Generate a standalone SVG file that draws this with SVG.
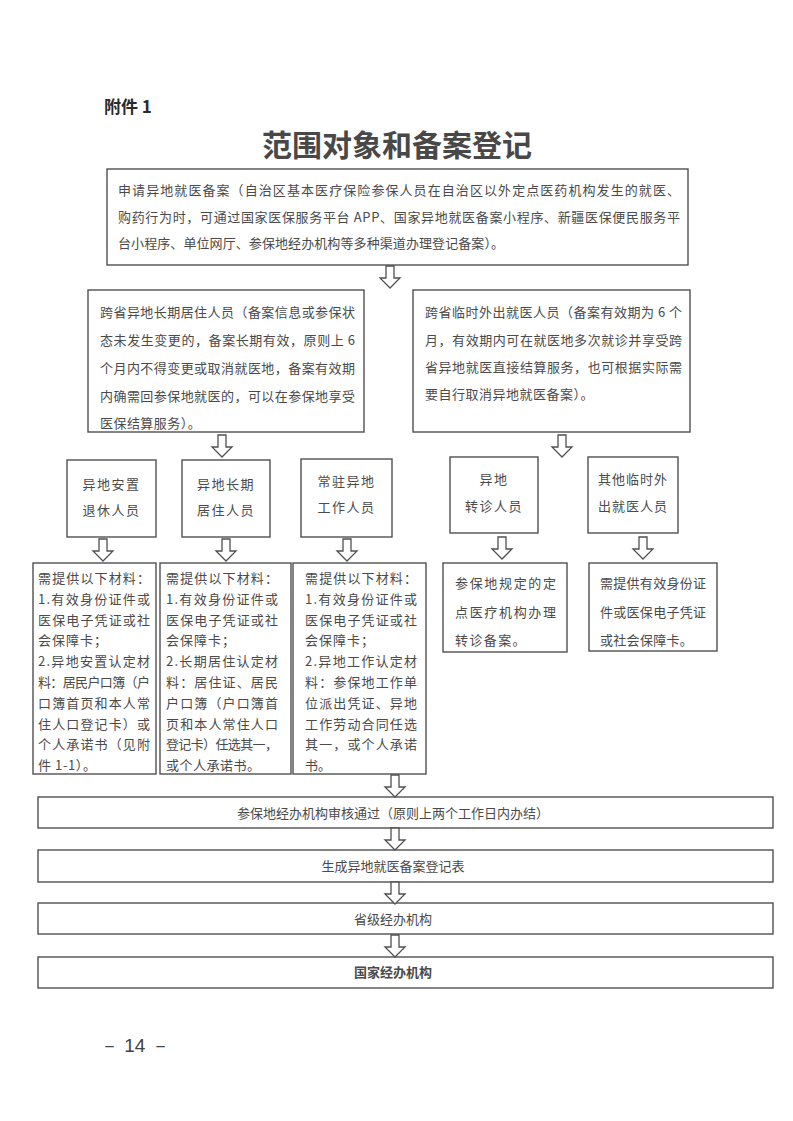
<svg xmlns="http://www.w3.org/2000/svg" xmlns:xlink="http://www.w3.org/1999/xlink" width="793" height="1121" viewBox="0 0 793 1121">
<style>
.bg{fill:#ffffff}
.box{fill:#ffffff;stroke:#505050;stroke-width:1.4}
.t{font-family:"Noto Sans CJK SC","Liberation Sans",sans-serif;font-size:13px;fill:#4a4a4a}
.c{text-anchor:middle}
.arrow{fill:#ffffff;stroke:#505050;stroke-width:1.3;stroke-linejoin:miter}
.head{font-family:"Noto Sans CJK SC","Liberation Sans",sans-serif;font-weight:bold;fill:#2a2a2a}
</style>
<defs>
<path id="arr" d="M-4,0 H4 V12 H10 L0,22 L-10,12 H-4 Z" class="arrow"/>
</defs>
<rect class="bg" x="0" y="0" width="793" height="1121"/>
<text class="head" x="104" y="113" font-size="17">附件 1</text>
<text class="head c" x="397" y="156" font-size="30" style="fill:#484848">范围对象和备案登记</text>

<g id="n_apply">
<rect class="box" x="107" y="169" width="581" height="96"/>
<text class="t" x="118" y="195" textLength="562" lengthAdjust="spacing">申请异地就医备案（自治区基本医疗保险参保人员在自治区以外定点医药机构发生的就医、</text>
<text class="t" x="118" y="222" textLength="562" lengthAdjust="spacing">购药行为时，可通过国家医保服务平台 APP、国家异地就医备案小程序、新疆医保便民服务平</text>
<text class="t" x="118" y="248" textLength="386" lengthAdjust="spacing">台小程序、单位网厅、参保地经办机构等多种渠道办理登记备案）。</text>
</g>

<g id="n_long">
<rect class="box" x="88" y="290" width="276" height="142"/>
<text class="t" x="100" y="317" textLength="255" lengthAdjust="spacing">跨省异地长期居住人员（备案信息或参保状</text>
<text class="t" x="100" y="345" textLength="255" lengthAdjust="spacing">态未发生变更的，备案长期有效，原则上 6</text>
<text class="t" x="100" y="373" textLength="255" lengthAdjust="spacing">个月内不得变更或取消就医地，备案有效期</text>
<text class="t" x="100" y="401" textLength="255" lengthAdjust="spacing">内确需回参保地就医的，可以在参保地享受</text>
<text class="t" x="100" y="428" letter-spacing="0.45">医保结算服务）。</text>
</g>

<g id="n_temp">
<rect class="box" x="413" y="290" width="277" height="142"/>
<text class="t" x="425" y="317" textLength="257" lengthAdjust="spacing">跨省临时外出就医人员（备案有效期为 6 个</text>
<text class="t" x="425" y="345" textLength="257" lengthAdjust="spacing">月，有效期内可在就医地多次就诊并享受跨</text>
<text class="t" x="425" y="372" textLength="257" lengthAdjust="spacing">省异地就医直接结算服务，也可根据实际需</text>
<text class="t" x="425" y="399" letter-spacing="0.5">要自行取消异地就医备案）。</text>
</g>

<g id="n_retire">
<rect class="box" x="67" y="460" width="89" height="77"/>
<text class="t c" x="111.5" y="489" letter-spacing="1.5">异地安置</text>
<text class="t c" x="111.5" y="515" letter-spacing="1.5">退休人员</text>
</g>
<g id="n_reside">
<rect class="box" x="182" y="460" width="88" height="77"/>
<text class="t c" x="226" y="489" letter-spacing="1.5">异地长期</text>
<text class="t c" x="226" y="515" letter-spacing="1.5">居住人员</text>
</g>
<g id="n_work">
<rect class="box" x="301" y="459" width="91" height="78"/>
<text class="t c" x="346.5" y="486" letter-spacing="1.5">常驻异地</text>
<text class="t c" x="346.5" y="512" letter-spacing="1.5">工作人员</text>
</g>
<g id="n_transfer">
<rect class="box" x="450" y="457" width="88" height="76"/>
<text class="t c" x="494" y="484" letter-spacing="1.5">异地</text>
<text class="t c" x="494" y="511" letter-spacing="1.5">转诊人员</text>
</g>
<g id="n_other">
<rect class="box" x="588" y="457" width="90" height="76"/>
<text class="t c" x="633" y="484" letter-spacing="1">其他临时外</text>
<text class="t c" x="633" y="511" letter-spacing="1">出就医人员</text>
</g>

<g id="n_mat1">
<rect class="box" x="33" y="563" width="123" height="211"/>
<text class="t" x="38" y="583" textLength="112" lengthAdjust="spacing">需提供以下材料：</text>
<text class="t" x="38" y="604" textLength="112" lengthAdjust="spacing">1.有效身份证件或</text>
<text class="t" x="38" y="625" textLength="112" lengthAdjust="spacing">医保电子凭证或社</text>
<text class="t" x="38" y="645" letter-spacing="1">会保障卡；</text>
<text class="t" x="38" y="666" textLength="112" lengthAdjust="spacing">2.异地安置认定材</text>
<text class="t" x="38" y="687" textLength="112" lengthAdjust="spacing">料：居民户口簿（户</text>
<text class="t" x="38" y="708" textLength="112" lengthAdjust="spacing">口簿首页和本人常</text>
<text class="t" x="38" y="729" textLength="112" lengthAdjust="spacing">住人口登记卡）或</text>
<text class="t" x="38" y="749" textLength="112" lengthAdjust="spacing">个人承诺书（见附</text>
<text class="t" x="38" y="770" letter-spacing="0.6">件 1-1）。</text>
</g>
<g id="n_mat2">
<rect class="box" x="160" y="563" width="131" height="211"/>
<text class="t" x="166" y="583" textLength="112" lengthAdjust="spacing">需提供以下材料：</text>
<text class="t" x="166" y="604" textLength="112" lengthAdjust="spacing">1.有效身份证件或</text>
<text class="t" x="166" y="625" textLength="112" lengthAdjust="spacing">医保电子凭证或社</text>
<text class="t" x="166" y="645" letter-spacing="1">会保障卡；</text>
<text class="t" x="166" y="666" textLength="112" lengthAdjust="spacing">2.长期居住认定材</text>
<text class="t" x="166" y="687" textLength="112" lengthAdjust="spacing">料：居住证、居民</text>
<text class="t" x="166" y="708" textLength="112" lengthAdjust="spacing">户口簿（户口簿首</text>
<text class="t" x="166" y="729" textLength="112" lengthAdjust="spacing">页和本人常住人口</text>
<text class="t" x="166" y="749" textLength="112" lengthAdjust="spacing">登记卡）任选其一，</text>
<text class="t" x="166" y="770" letter-spacing="0.5">或个人承诺书。</text>
</g>
<g id="n_mat3">
<rect class="box" x="293" y="563" width="133" height="211"/>
<text class="t" x="305" y="583" textLength="112" lengthAdjust="spacing">需提供以下材料：</text>
<text class="t" x="305" y="604" textLength="112" lengthAdjust="spacing">1.有效身份证件或</text>
<text class="t" x="305" y="625" textLength="112" lengthAdjust="spacing">医保电子凭证或社</text>
<text class="t" x="305" y="645" letter-spacing="1">会保障卡；</text>
<text class="t" x="305" y="666" textLength="112" lengthAdjust="spacing">2.异地工作认定材</text>
<text class="t" x="305" y="687" textLength="112" lengthAdjust="spacing">料：参保地工作单</text>
<text class="t" x="305" y="708" textLength="112" lengthAdjust="spacing">位派出凭证、异地</text>
<text class="t" x="305" y="729" textLength="112" lengthAdjust="spacing">工作劳动合同任选</text>
<text class="t" x="305" y="749" textLength="112" lengthAdjust="spacing">其一，或个人承诺</text>
<text class="t" x="305" y="770">书。</text>
</g>
<g id="n_mat4">
<rect class="box" x="443" y="563" width="124" height="89"/>
<text class="t" x="455" y="588" textLength="101" lengthAdjust="spacing">参保地规定的定</text>
<text class="t" x="455" y="617" textLength="101" lengthAdjust="spacing">点医疗机构办理</text>
<text class="t" x="455" y="645" letter-spacing="1.4">转诊备案。</text>
</g>
<g id="n_mat5">
<rect class="box" x="589" y="563" width="128" height="88"/>
<text class="t" x="600" y="588" textLength="106" lengthAdjust="spacing">需提供有效身份证</text>
<text class="t" x="600" y="617" textLength="106" lengthAdjust="spacing">件或医保电子凭证</text>
<text class="t" x="600" y="645" letter-spacing="0.3">或社会保障卡。</text>
</g>

<g id="n_review">
<rect class="box" x="38" y="797" width="735" height="31"/>
<text class="t c" x="393" y="818">参保地经办机构审核通过（原则上两个工作日内办结）</text>
</g>
<g id="n_form">
<rect class="box" x="38" y="850" width="735" height="32"/>
<text class="t c" x="393" y="871">生成异地就医备案登记表</text>
</g>
<g id="n_prov">
<rect class="box" x="38" y="903" width="735" height="31"/>
<text class="t c" x="393" y="924">省级经办机构</text>
</g>
<g id="n_nation">
<rect class="box" x="38" y="957" width="735" height="31"/>
<text class="t c" x="393" y="977" fill="#222" font-weight="bold">国家经办机构</text>
</g>

<g id="connectors">
<use xlink:href="#arr" x="390" y="266"/>
<use xlink:href="#arr" x="222" y="435"/>
<use xlink:href="#arr" x="562" y="435"/>
<use xlink:href="#arr" x="103" y="539"/>
<use xlink:href="#arr" x="226" y="539"/>
<use xlink:href="#arr" x="347" y="539"/>
<use xlink:href="#arr" x="502" y="537"/>
<use xlink:href="#arr" x="643" y="537"/>
<use xlink:href="#arr" x="395" y="775"/>
<use xlink:href="#arr" x="395" y="828"/>
<use xlink:href="#arr" x="395" y="882"/>
<use xlink:href="#arr" x="395" y="935"/>
</g>

<text x="100" y="1052" font-family="Liberation Sans, sans-serif" font-size="19" fill="#444">－ 14 －</text>
</svg>
